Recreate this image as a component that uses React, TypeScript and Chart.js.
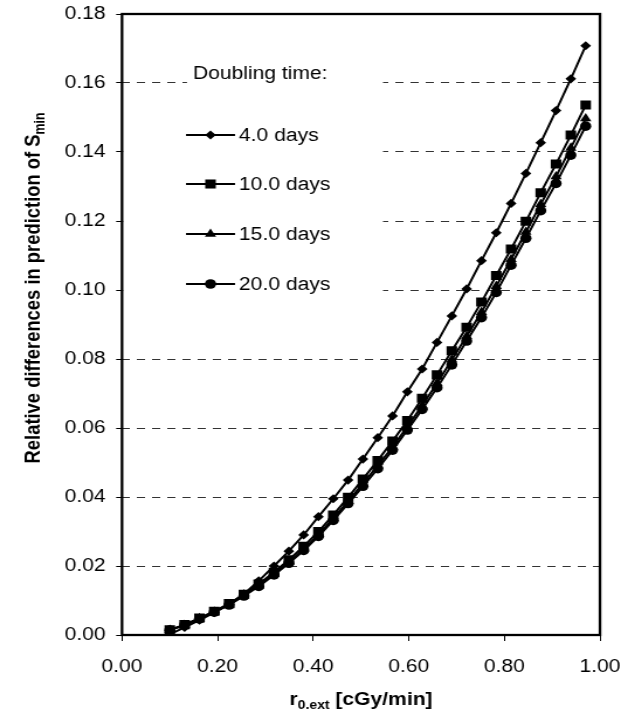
import React, { useEffect, useRef } from 'react';
import { Chart, registerables } from 'chart.js';

Chart.register(...registerables);

// ---------- data ----------
const xValues = [
  0.100, 0.131, 0.162, 0.193, 0.224, 0.255, 0.286, 0.318, 0.349, 0.380,
  0.411, 0.442, 0.473, 0.504, 0.535, 0.566, 0.597, 0.628, 0.659, 0.690,
  0.721, 0.752, 0.783, 0.814, 0.845, 0.876, 0.908, 0.939, 0.970,
];
const days4 = [
  0.0002, 0.0022, 0.0043, 0.0065, 0.0089, 0.0119, 0.0157, 0.0200, 0.0243, 0.0290,
  0.0343, 0.0395, 0.0449, 0.0510, 0.0572, 0.0635, 0.0705, 0.0771, 0.0848, 0.0925,
  0.1003, 0.1085, 0.1166, 0.1251, 0.1338, 0.1427, 0.1520, 0.1612, 0.1708,
];
const days10 = [
  0.0015, 0.0030, 0.0049, 0.0069, 0.0091, 0.0118, 0.0148, 0.0182, 0.0218, 0.0257,
  0.0300, 0.0348, 0.0399, 0.0452, 0.0506, 0.0562, 0.0622, 0.0686, 0.0754, 0.0824,
  0.0892, 0.0965, 0.1042, 0.1119, 0.1199, 0.1282, 0.1365, 0.1449, 0.1536,
];
const days15 = [
  0.0014, 0.0029, 0.0048, 0.0067, 0.0088, 0.0115, 0.0143, 0.0177, 0.0212, 0.0249,
  0.0291, 0.0338, 0.0388, 0.0439, 0.0491, 0.0545, 0.0604, 0.0665, 0.0730, 0.0798,
  0.0866, 0.0936, 0.1011, 0.1089, 0.1168, 0.1249, 0.1329, 0.1412, 0.1497,
];
const days20 = [
  0.0014, 0.0029, 0.0047, 0.0066, 0.0087, 0.0113, 0.0141, 0.0174, 0.0208, 0.0245,
  0.0286, 0.0332, 0.0381, 0.0431, 0.0482, 0.0536, 0.0594, 0.0654, 0.0717, 0.0783,
  0.0852, 0.0920, 0.0993, 0.1072, 0.1150, 0.1230, 0.1309, 0.1391, 0.1475,
];
const seriesLabels = ['4.0 days', '10.0 days', '15.0 days', '20.0 days'];
const seriesValues = [days4, days10, days15, days20];
const pointStyles = ['rectRot', 'rect', 'triangle', 'circle'];
const pointRadii = [4.6, 6.4, 5.6, 4.8];
const xTicks = [0, 0.2, 0.4, 0.6, 0.8, 1.0];
const yTicks = [0, 0.02, 0.04, 0.06, 0.08, 0.1, 0.12, 0.14, 0.16, 0.18];
const legendTitle = 'Doubling time:';
const yTitleMain = 'Relative differences in prediction of S';
const yTitleSub = 'min';
const xTitleMain = 'r';
const xTitleSub = '0.ext';
const xTitleRest = ' [cGy/min]';

// ---------- geometry (page px -> canvas px, horizontal stretch) ----------
const PAGE_W = 621;
const PAGE_H = 712;
const CANVAS_W = 531;
const S = PAGE_W / CANVAS_W;
const X = (p: number) => p / S;
const FONT = "'Liberation Sans', Arial, Helvetica, sans-serif";

function drawMarker(ctx: CanvasRenderingContext2D, style: string, x: number, y: number, r: number) {
  ctx.beginPath();
  if (style === 'rectRot') {
    ctx.moveTo(x, y - r);
    ctx.lineTo(x + r, y);
    ctx.lineTo(x, y + r);
    ctx.lineTo(x - r, y);
    ctx.closePath();
  } else if (style === 'rect') {
    const h = r * Math.SQRT1_2;
    ctx.rect(x - h, y - h, 2 * h, 2 * h);
  } else if (style === 'triangle') {
    const h = (3 * r) / Math.sqrt(3);
    ctx.moveTo(x - h / 2, y + r / 2);
    ctx.lineTo(x + h / 2, y + r / 2);
    ctx.lineTo(x, y - r);
    ctx.closePath();
  } else {
    ctx.arc(x, y, r, 0, Math.PI * 2);
  }
  ctx.fill();
}

const decorPlugin = {
  id: 'decor',
  beforeDatasetsDraw(chart: any) {
    const { ctx, chartArea: a } = chart;
    ctx.save();
    // white boxes behind the legend / legend title
    ctx.fillStyle = '#ffffff';
    ctx.fillRect(X(187), 58, X(383) - X(187), 34);
    ctx.fillRect(a.left + 1, 112, X(383) - a.left - 1, 193);
    // plot area frame
    ctx.strokeStyle = '#000';
    ctx.lineWidth = 2.3;
    ctx.strokeRect(a.left, a.top, a.right - a.left, a.bottom - a.top);
    // legend
    ctx.fillStyle = '#000';
    ctx.font = `18px ${FONT}`;
    ctx.textBaseline = 'middle';
    ctx.textAlign = 'left';
    ctx.fillText(legendTitle, X(193), 74);
    const rows = [135, 184, 234, 284];
    seriesLabels.forEach((lab, i) => {
      const y = rows[i];
      ctx.strokeStyle = '#000';
      ctx.lineWidth = 2;
      ctx.beginPath();
      ctx.moveTo(X(186), y);
      ctx.lineTo(X(235), y);
      ctx.stroke();
      drawMarker(ctx, pointStyles[i], X(210.5), y, pointRadii[i]);
      ctx.fillText(lab, X(239), y + 1);
    });
    ctx.restore();
  },
  afterDraw(chart: any) {
    const { ctx, chartArea: a } = chart;
    ctx.save();
    ctx.fillStyle = '#000';
    ctx.textBaseline = 'alphabetic';
    ctx.textAlign = 'left';
    const big = `bold 18px ${FONT}`;
    const small = `bold 12px ${FONT}`;
    // x title
    ctx.font = big;
    const w1 = ctx.measureText(xTitleMain).width;
    const w3 = ctx.measureText(xTitleRest).width;
    ctx.font = small;
    const w2 = ctx.measureText(xTitleSub).width;
    const x0 = (a.left + a.right) / 2 - (w1 + w2 + w3) / 2;
    const by = 705;
    ctx.font = big;
    ctx.fillText(xTitleMain, x0, by);
    ctx.font = small;
    ctx.fillText(xTitleSub, x0 + w1, by + 4);
    ctx.font = big;
    ctx.fillText(xTitleRest, x0 + w1 + w2, by);
    // y title (rotated)
    const bigY = `bold 18.4px ${FONT}`;
    const smallY = `bold 12.3px ${FONT}`;
    ctx.translate(X(39.5), 288);
    ctx.rotate(-Math.PI / 2);
    ctx.font = bigY;
    const m1 = ctx.measureText(yTitleMain).width;
    ctx.font = smallY;
    const m2 = ctx.measureText(yTitleSub).width;
    const sx = -(m1 + m2) / 2;
    ctx.font = bigY;
    ctx.fillText(yTitleMain, sx, 0);
    ctx.font = smallY;
    ctx.fillText(yTitleSub, sx + m1, 4);
    ctx.restore();
  },
};

export default function App() {
  const canvasRef = useRef<HTMLCanvasElement | null>(null);

  useEffect(() => {
    const canvas = canvasRef.current;
    if (!canvas) return;
    const datasets = seriesLabels.map((label, i) => ({
      label,
      data: xValues.map((x, j) => ({ x, y: seriesValues[i][j] })),
      borderColor: '#000',
      backgroundColor: '#000',
      borderWidth: 2,
      pointStyle: pointStyles[i],
      pointRadius: pointRadii[i],
      pointBorderWidth: 0,
      pointBackgroundColor: '#000',
      tension: 0,
      fill: false,
    }));
    const chart = new Chart(canvas, {
      type: 'line',
      data: { datasets },
      options: {
        animation: false,
        responsive: false,
        devicePixelRatio: 1,
        layout: { padding: { top: 14, right: CANVAS_W - X(600), left: 0, bottom: 0 } },
        plugins: {
          legend: { display: false },
          tooltip: { enabled: false },
          title: { display: false },
        },
        scales: {
          x: {
            type: 'linear',
            min: 0,
            max: 1,
            afterBuildTicks: (scale: any) => {
              scale.ticks = xTicks.map((v) => ({ value: v }));
            },
            afterFit: (scale: any) => {
              scale.height = PAGE_H - 635;
              scale.paddingLeft = 0;
              scale.paddingRight = 0;
            },
            ticks: {
              callback: (v: any) => Number(v).toFixed(2),
              color: '#000',
              font: { family: FONT, size: 18 },
              padding: 15,
              maxRotation: 0,
              autoSkip: false,
            },
            grid: {
              drawOnChartArea: false,
              drawTicks: true,
              tickLength: 6,
              tickColor: '#000',
              tickWidth: 1,
              color: '#000',
            },
            border: { display: false },
          },
          y: {
            type: 'linear',
            min: 0,
            max: 0.18,
            afterBuildTicks: (scale: any) => {
              scale.ticks = yTicks.map((v) => ({ value: v }));
            },
            afterFit: (scale: any) => {
              scale.width = X(122);
              scale.paddingTop = 0;
              scale.paddingBottom = 0;
            },
            ticks: {
              callback: (v: any) => Number(v).toFixed(2),
              color: '#000',
              font: { family: FONT, size: 18 },
              padding: 9,
              autoSkip: false,
            },
            grid: {
              drawOnChartArea: true,
              drawTicks: true,
              tickLength: 5,
              tickColor: '#000',
              tickWidth: 1,
              tickBorderDash: [],
              color: '#333',
              lineWidth: 1,
            },
            border: { display: false, dash: [7, 6] },
          },
        },
      },
      plugins: [decorPlugin],
    } as any);
    return () => chart.destroy();
  }, []);

  return (
    <div style={{ position: 'absolute', left: 0, top: 0, width: PAGE_W, height: PAGE_H, background: '#fff' }}>
      <canvas
        ref={canvasRef}
        width={CANVAS_W}
        height={PAGE_H}
        style={{ width: `${PAGE_W}px`, height: `${PAGE_H}px`, display: 'block' }}
      />
    </div>
  );
}
